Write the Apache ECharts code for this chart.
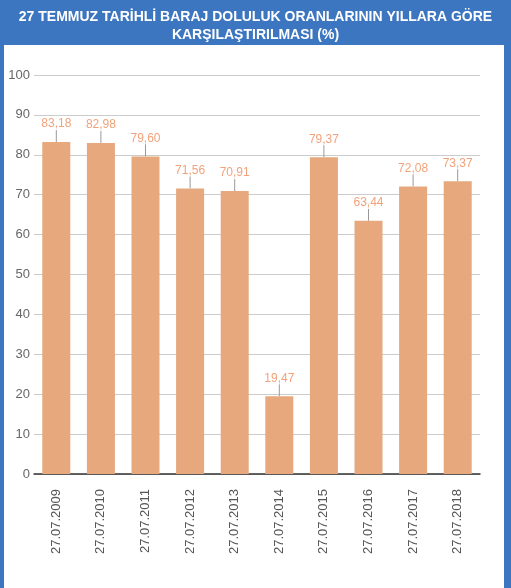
<!DOCTYPE html>
<html><head><meta charset="utf-8">
<script src="https://cdn.jsdelivr.net/npm/echarts@6/dist/echarts.min.js"></script>
<style>html,body{margin:0;padding:0;}#c{width:511px;height:588px;}</style>
</head><body><div id="c"></div>
<script>
var titleText = '27 TEMMUZ TARİHLİ BARAJ DOLULUK ORANLARININ YILLARA GÖRE\nKARŞILAŞTIRILMASI (%)';
var categories = ['27.07.2009','27.07.2010','27.07.2011','27.07.2012','27.07.2013','27.07.2014','27.07.2015','27.07.2016','27.07.2017','27.07.2018'];
var values = [83.18, 82.98, 79.60, 71.56, 70.91, 19.47, 79.37, 63.44, 72.08, 73.37];
var yTicks = [0,10,20,30,40,50,60,70,80,90,100];

var chart = echarts.init(document.getElementById('c'));
chart.setOption({
  backgroundColor: '#3c76c1',
  animation: false,
  graphic: [{type:'rect', shape:{x:4,y:45,width:500,height:560}, style:{fill:'#fff'}, z:-10}],
  title: {text: titleText, left:'center', top: 3,
    textStyle:{color:'#fff', fontFamily:'Liberation Sans, Arial', fontWeight:'bold', fontSize:14, lineHeight:18}},
  grid: {left:34, right:31, top:75, bottom:114},
  xAxis: {type:'category', data: categories,
    axisLine:{lineStyle:{color:'#333', width:1.5}}, axisTick:{show:false},
    axisLabel:{rotate:90, margin:15, color:'#555', fontFamily:'Liberation Sans, Arial', fontSize:13}},
  yAxis: {type:'value', min:0, max:100, interval:10,
    axisLine:{show:false}, axisTick:{show:false},
    splitLine:{lineStyle:{color:'#ccc'}},
    axisLabel:{color:'#666', fontFamily:'Liberation Sans, Arial', fontSize:13, margin:4}},
  series: [{type:'bar', data: values, barWidth:28,
    itemStyle:{color:'#e6a87c'},
    label:{show:true, position:'top', distance:2, color:'#f2a27a', fontFamily:'Liberation Sans, Arial', fontSize:12,
      formatter:function(p){return p.value.toFixed(2).replace('.',',');}},
    labelLayout:{dy:-10},
    labelLine:{show:true, lineStyle:{color:'#999', width:1}}
  }]
});
</script></body></html>
